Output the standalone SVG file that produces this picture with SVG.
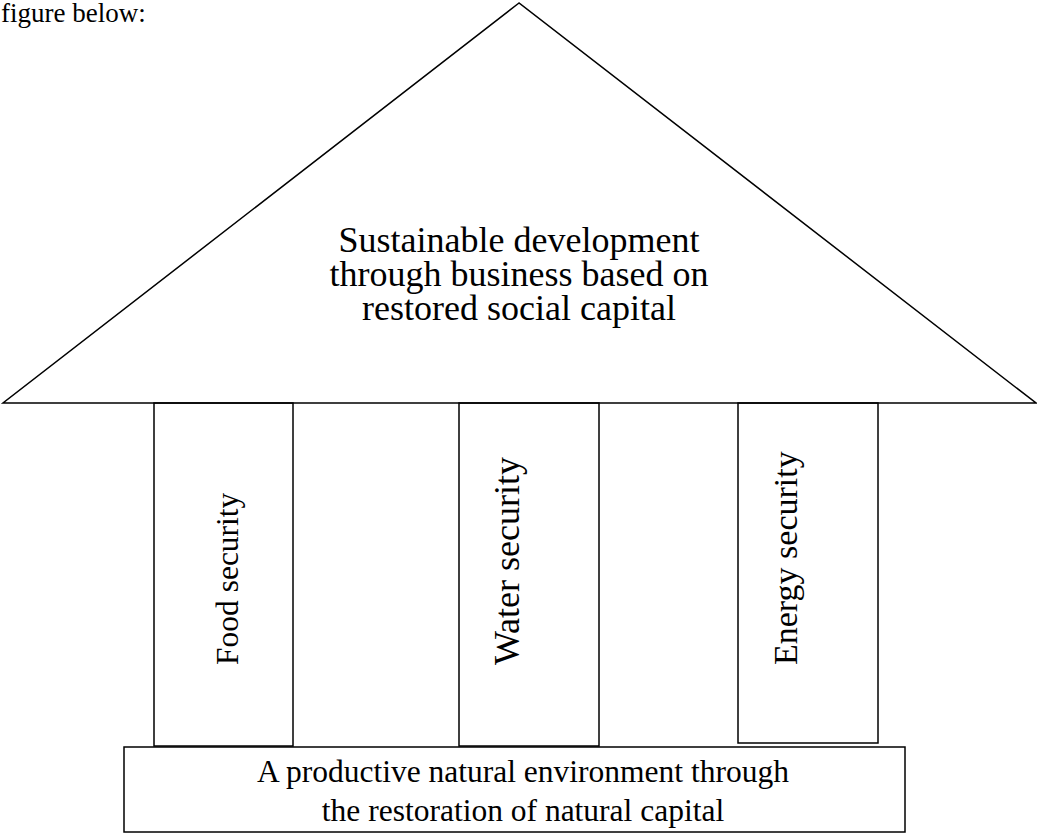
<svg xmlns="http://www.w3.org/2000/svg" width="1037" height="834" viewBox="0 0 1037 834">
<style>
.s{fill:none;stroke:#000;stroke-width:1.5}
.t{font-family:"Liberation Serif","Times New Roman",serif;fill:#000}
.c{text-anchor:middle}
.f14{font-size:31.5px}
.f16{font-size:36px}
</style>
<rect width="1037" height="834" fill="#fff"/>
<text class="t" x="1" y="22" font-size="27">figure below:</text>
<g id="roof">
<polygon class="s" points="519,3 3,403 1036,403"/>
<text class="t c f16" x="519" y="252">Sustainable development</text>
<text class="t c f16" x="519" y="286">through business based on</text>
<text class="t c f16" x="519" y="320">restored social capital</text>
</g>
<g id="food">
<rect class="s" x="154" y="403" width="139" height="343"/>
<text class="t f14" transform="translate(238,665) rotate(-90)">Food security</text>
</g>
<g id="water">
<rect class="s" x="459" y="403" width="140" height="343"/>
<text class="t f16" transform="translate(519,665) rotate(-90)">Water security</text>
</g>
<g id="energy">
<rect class="s" x="738" y="403" width="140" height="340"/>
<text class="t" font-size="34" transform="translate(797,665) rotate(-90)">Energy security</text>
</g>
<g id="base">
<rect class="s" x="124" y="747" width="781" height="85"/>
<text class="t c f14" x="523" y="782">A productive natural environment through</text>
<text class="t c f14" x="523" y="821">the restoration of natural capital</text>
</g>
<g id="connectors"></g>
</svg>
